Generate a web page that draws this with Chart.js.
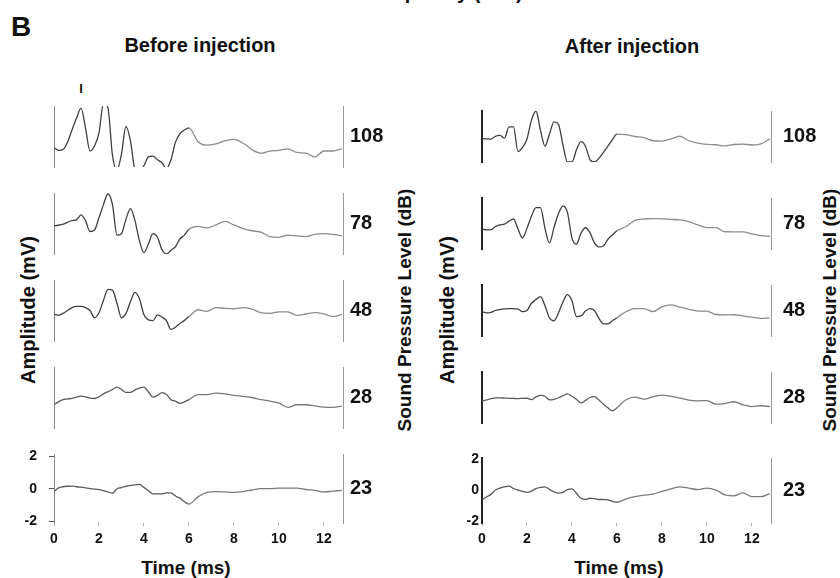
<!DOCTYPE html>
<html>
<head>
<meta charset="utf-8">
<script src="https://cdn.jsdelivr.net/npm/chart.js@4.4.0/dist/chart.umd.min.js"></script>
<style>
  body { margin: 0; background: #fff; }
  #fig { position: relative; width: 840px; height: 578px; overflow: hidden;
         font-family: "Liberation Sans", Arial, sans-serif; font-weight: bold; color: #111; }
  .panel { position: absolute; }
  .txt { position: absolute; white-space: nowrap; transform: translate(-50%, -50%); }
  .rot { transform: translate(-50%, -50%) rotate(-90deg); }
</style>
</head>
<body>
<div id="fig">
  <div class="txt" style="left:367px;top:-18px;transform:none;font-size:20px;line-height:20px">Frequency (kHz)</div>
  <div class="txt" style="left:21px;top:27px;font-size:28px">B</div>
  <div class="txt" style="left:200px;top:45px;font-size:20px">Before injection</div>
  <div class="txt" style="left:632px;top:46px;font-size:20px">After injection</div>
  <div class="txt" style="left:81px;top:88px;font-size:13px">I</div>
  <div class="txt rot" style="left:28px;top:310px;font-size:20px">Amplitude (mV)</div>
  <div class="txt rot" style="left:447px;top:310px;font-size:20px">Amplitude (mV)</div>
  <div class="txt rot" style="left:405px;top:310px;font-size:19px">Sound Pressure Level (dB)</div>
  <div class="txt rot" style="left:830px;top:310px;font-size:19px">Sound Pressure Level (dB)</div>
  <div class="txt" style="left:186px;top:568px;font-size:19px">Time (ms)</div>
  <div class="txt" style="left:619px;top:568px;font-size:19px">Time (ms)</div>
</div>
<script>
// time base (ms) - finer in the early part where the waves are
let timeMs = [0,0.2,0.4,0.6,0.8,1,1.2,1.4,1.6,1.8,2,2.2,2.4,2.6,2.8,3,3.2,3.4,3.6,3.8,4,4.2,4.4,4.6,4.8,5,5.2,5.4,5.6,5.8,6,
              6.4,6.8,7.2,7.6,8,8.4,8.8,9.2,9.6,10,10.4,10.8,11.2,11.6,12,12.4,12.8];
let levelsDb = ['108', '78', '48', '28', '23'];
let timeTicks = [0, 2, 4, 6, 8, 10, 12];
let ampTicks = [-2, 0, 2];

// before injection, amplitude (mV)
let before108 = [-0.78,-0.95,-0.9,-0.4,0.45,1.25,1.95,0.6,-1.0,-0.65,0.25,2.3,1.95,-1.3,-2.3,-1.2,0.7,-0.3,-2.3,-2.5,-2.0,-1.4,-1.35,-1.6,-1.8,-2.2,-1.6,-0.4,0.2,0.45,0.6,
                 -0.34,-0.6,-0.5,-0.3,-0.2,-0.45,-0.9,-1.15,-1.0,-0.95,-0.85,-1.1,-1.15,-1.4,-1.0,-1.0,-0.85];
let before78 = [-0.15,-0.12,-0.05,0.08,0.2,0.25,0.6,0.2,-0.55,-0.45,0.4,1.3,2.05,1.3,-0.8,-0.7,0.3,1.03,0.2,-1.2,-2.0,-1.4,-0.7,-0.95,-1.8,-2.1,-1.85,-1.6,-1.05,-0.8,-0.4,
                -0.2,-0.3,-0.1,0.15,-0.1,-0.35,-0.5,-0.6,-0.9,-0.95,-0.8,-0.85,-0.9,-0.75,-0.7,-0.75,-0.85];
let before48 = [-0.25,-0.33,-0.2,0.0,0.2,0.28,0.28,0.2,0.0,-0.5,-0.15,0.7,1.45,1.4,0.5,-0.5,-0.2,0.6,1.25,0.8,-0.3,-0.65,-0.7,-0.3,-0.45,-0.7,-1.3,-1.15,-0.9,-0.68,-0.42,
                0.05,-0.06,0.2,0.15,0.12,0.2,0.1,-0.15,-0.2,-0.1,-0.1,-0.33,-0.24,-0.15,-0.24,-0.42,-0.27];
let before28 = [-0.5,-0.3,-0.15,-0.1,-0.06,0.03,0.1,0.05,-0.04,-0.07,0.05,0.25,0.4,0.55,0.72,0.55,0.35,0.35,0.52,0.65,0.72,0.38,0.03,0.15,0.33,0.2,-0.15,-0.25,-0.4,-0.3,-0.15,
                0.2,0.2,0.3,0.25,0.15,0.08,0.0,-0.15,-0.25,-0.38,-0.68,-0.5,-0.5,-0.58,-0.66,-0.68,-0.6];
let before23 = [-0.18,0.05,0.12,0.15,0.16,0.12,0.09,0.05,0.0,-0.02,-0.05,-0.12,-0.2,-0.28,0.0,0.07,0.15,0.2,0.23,0.27,0.08,-0.12,-0.32,-0.32,-0.32,-0.25,-0.25,-0.45,-0.58,-0.8,-0.94,
                -0.5,-0.23,-0.18,-0.2,-0.23,-0.18,-0.08,0.0,0.0,0.03,0.03,0.03,-0.05,-0.1,-0.2,-0.15,-0.1];

// after injection, amplitude (mV)
let after108 = [-0.15,-0.2,-0.22,0.02,0.1,-0.14,0.8,0.8,-1.25,-0.9,-0.2,1.35,2.1,0.5,-0.8,0.2,1.2,1.0,-0.7,-2.1,-2.1,-1.1,-0.42,-0.8,-1.9,-2.1,-1.8,-1.3,-0.8,-0.25,0.2,
                0.15,0.0,-0.1,-0.35,-0.38,-0.2,0.02,-0.35,-0.55,-0.65,-0.68,-0.78,-0.66,-0.62,-0.7,-0.6,-0.2];
let after78 = [-0.45,-0.52,-0.5,-0.25,-0.12,-0.05,0.2,0.37,-0.45,-1.18,-0.4,0.6,1.3,1.3,-0.4,-1.6,-0.34,0.8,1.45,0.9,-1.2,-1.7,-0.8,-0.35,-0.75,-1.6,-1.93,-1.85,-1.3,-0.95,-0.6,
               -0.25,0.25,0.37,0.4,0.38,0.34,0.3,0.15,-0.12,-0.34,-0.34,-0.68,-0.69,-0.69,-0.85,-1.0,-1.05];
let after48 = [-0.1,-0.2,-0.15,0.0,0.08,0.14,0.15,0.15,0.12,-0.1,0.0,0.6,0.9,1.14,0.4,-0.62,-0.85,-0.2,0.7,1.3,0.8,-0.5,-0.45,-0.05,0.15,0.0,-0.65,-1.1,-1.1,-0.85,-0.6,
               -0.1,0.15,0.15,-0.1,0.3,0.47,0.27,0.1,-0.05,-0.05,-0.33,-0.36,-0.35,-0.45,-0.55,-0.65,-0.6];
let after28 = [-0.3,-0.2,-0.1,-0.03,-0.03,-0.05,-0.07,-0.08,-0.09,-0.07,-0.06,-0.18,0.05,0.18,0.1,-0.2,-0.15,-0.02,0.15,0.3,0.1,-0.15,-0.45,-0.25,0.0,0.08,-0.2,-0.55,-0.85,-1.1,-0.85,
               -0.18,0.03,-0.13,0.05,0.2,0.09,-0.05,-0.22,-0.28,-0.25,-0.55,-0.5,-0.35,-0.6,-0.75,-0.68,-0.75];
let after23 = [-0.6,-0.42,-0.25,0.03,0.16,0.24,0.28,0.13,0.02,-0.06,-0.12,-0.04,0.12,0.2,0.24,0.07,-0.08,-0.17,-0.12,0.05,0.1,-0.18,-0.5,-0.57,-0.5,-0.53,-0.58,-0.58,-0.6,-0.7,-0.76,
               -0.55,-0.4,-0.3,-0.24,-0.05,0.11,0.24,0.15,0.06,0.15,0.03,-0.28,-0.35,-0.15,-0.4,-0.4,-0.2];

let beforeTraces = [before108, before78, before48, before28, before23];
let afterTraces = [after108, after78, after48, after28, after23];

Chart.defaults.font.family = '"Liberation Sans", Arial, sans-serif';
Chart.defaults.color = '#111';

let fig = document.getElementById('fig');
let panelTops = [97, 184, 271, 358, 444];
let colLefts = [0, 428];

function makePanel(col, row, values) {
    let isBottom = row === levelsDb.length - 1;
    let top = panelTops[row] - 10;
    let h = isBottom ? 578 - top : 99;

    let box = document.createElement('div');
    box.className = 'panel';
    box.style.left = colLefts[col] + 'px';
    box.style.top = top + 'px';
    let cv = document.createElement('canvas');
    cv.width = 393;
    cv.height = h;
    box.appendChild(cv);
    fig.appendChild(box);

    // early waves print darker than the slow tail
    let early = row < 3 ? '#3f3f3f' : '#5a5a5a';
    let late = row < 3 ? '#8c8c8c' : '#7a7a7a';

    new Chart(cv, {
        type: 'line',
        data: {
            datasets: [{
                data: timeMs.map((t, k) => ({x: t, y: values[k]})),
                borderColor: early,
                segment: {borderColor: c => c.p0.parsed.x >= 6 ? late : early},
                borderWidth: 1.3,
                pointRadius: 0,
                cubicInterpolationMode: 'monotone'
            }]
        },
        options: {
            responsive: false,
            animation: false,
            layout: {padding: {top: 10, bottom: isBottom ? 0 : 10, left: 0, right: 0}},
            plugins: {legend: {display: false}, tooltip: {enabled: false}},
            scales: {
                x: {
                    type: 'linear', min: 0, max: 12.85,
                    display: isBottom,
                    afterFit: s => { s.height = isBottom ? 55 : 0; },
                    afterBuildTicks: s => { s.ticks = timeTicks.map(v => ({value: v})); },
                    ticks: {font: {size: 14, weight: 'bold'}, padding: 5, maxRotation: 0},
                    grid: {drawOnChartArea: false, tickLength: 3, color: '#aaa'},
                    border: {display: false}
                },
                y: {
                    min: -2.1, max: 2.1, position: 'left',
                    afterFit: s => { s.width = 54; },
                    afterBuildTicks: s => { s.ticks = ampTicks.map(v => ({value: v})); },
                    ticks: {display: isBottom, font: {size: 14, weight: 'bold'}, padding: col === 0 ? 12 : 3},
                    grid: {display: isBottom && col === 0, drawTicks: col === 0, drawOnChartArea: false, tickLength: 5, color: '#555'},
                    border: {display: true, color: col === 0 ? '#888' : '#222', width: col === 0 ? 1 : 2}
                },
                r: {
                    type: 'linear', min: -2.1, max: 2.1, position: 'right',
                    afterFit: s => { s.width = 50; },
                    afterBuildTicks: s => { s.ticks = [{value: 0}]; },
                    ticks: {callback: () => levelsDb[row], font: {size: 20, weight: 'bold'}, padding: col === 0 ? 7 : 12},
                    grid: {display: false, drawTicks: false},
                    border: {display: true, color: '#999', width: 1}
                }
            }
        }
    });
}

beforeTraces.forEach((vals, i) => makePanel(0, i, vals));
afterTraces.forEach((vals, i) => makePanel(1, i, vals));
</script>
</body>
</html>
